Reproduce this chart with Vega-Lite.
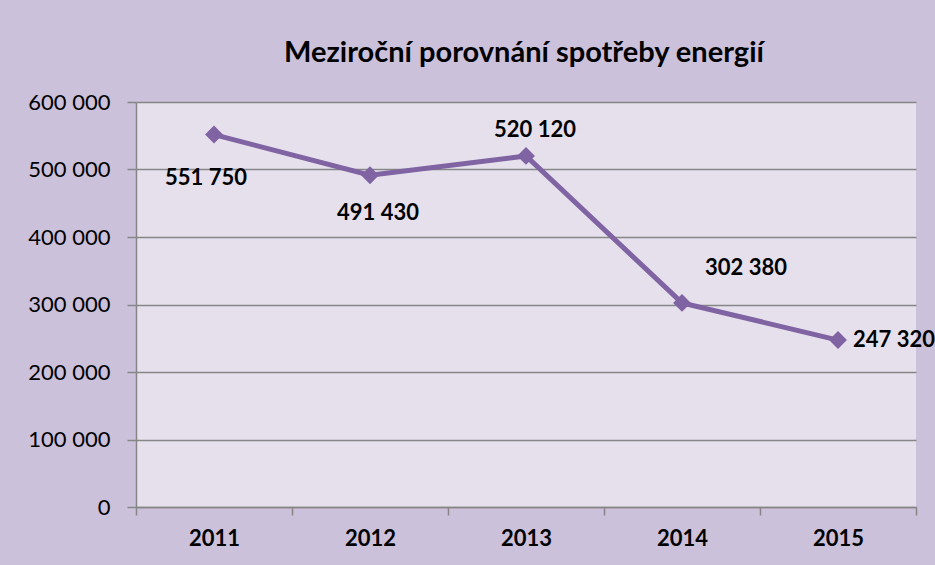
{
  "$schema": "https://vega.github.io/schema/vega-lite/v6.json",
  "width": 780,
  "height": 405,
  "autosize": {"type": "none"},
  "padding": {"left": 136, "top": 102, "right": 19, "bottom": 58},
  "background": "#ccc1da",
  "title": {
    "text": "Meziroční porovnání spotřeby energií",
    "fontSize": 29,
    "fontWeight": "bold",
    "color": "#000000",
    "anchor": "middle",
    "frame": "group",
    "baseline": "alphabetic",
    "offset": 0,
    "dx": -2
  },
  "config": {
    "font": "Lato",
    "locale": {
      "number": {"decimal": ",", "thousands": " ", "grouping": [3], "currency": ["", " Kč"]}
    },
    "view": {"fill": "#e5e0ec", "stroke": null}
  },
  "data": {
    "values": [
      {"year": "2011", "value": 551750},
      {"year": "2012", "value": 491430},
      {"year": "2013", "value": 520120},
      {"year": "2014", "value": 302380},
      {"year": "2015", "value": 247320}
    ]
  },
  "encoding": {
    "x": {
      "field": "year",
      "type": "ordinal",
      "scale": {"type": "band", "paddingInner": 0, "paddingOuter": 0},
      "axis": {
        "title": null,
        "labelAngle": 0,
        "labelFontSize": 22,
        "labelFontWeight": "bold",
        "labelColor": "#000000",
        "labelPadding": 13,
        "tickBand": "extent",
        "tickSize": 8,
        "tickColor": "#868686",
        "tickWidth": 1.5,
        "domainColor": "#868686",
        "domainWidth": 1.5,
        "grid": false
      }
    },
    "y": {
      "field": "value",
      "type": "quantitative",
      "scale": {"domain": [0, 600000], "nice": false},
      "axis": {
        "title": null,
        "values": [0, 100000, 200000, 300000, 400000, 500000, 600000],
        "labelExpr": "format(datum.value, ',')",
        "labelFontSize": 22,
        "labelColor": "#000000",
        "labelPadding": 17,
        "tickSize": 9,
        "tickColor": "#868686",
        "tickWidth": 1.5,
        "domainColor": "#868686",
        "domainWidth": 1.5,
        "grid": true,
        "gridColor": "#868686",
        "gridWidth": 1.5
      }
    }
  },
  "layer": [
    {
      "mark": {
        "type": "line",
        "color": "#7f63a2",
        "strokeWidth": 5,
        "point": {"shape": "diamond", "size": 320, "filled": true, "color": "#7f63a2", "opacity": 1}
      }
    },
    {
      "transform": [{"filter": "datum.year == '2011'"}],
      "mark": {"type": "text", "fontSize": 22, "fontWeight": "bold", "color": "#000000", "align": "center", "baseline": "middle", "dx": -8, "dy": 43},
      "encoding": {"text": {"field": "value", "type": "quantitative", "format": ","}}
    },
    {
      "transform": [{"filter": "datum.year == '2012'"}],
      "mark": {"type": "text", "fontSize": 22, "fontWeight": "bold", "color": "#000000", "align": "center", "baseline": "middle", "dx": 8, "dy": 38},
      "encoding": {"text": {"field": "value", "type": "quantitative", "format": ","}}
    },
    {
      "transform": [{"filter": "datum.year == '2013'"}],
      "mark": {"type": "text", "fontSize": 22, "fontWeight": "bold", "color": "#000000", "align": "center", "baseline": "middle", "dx": 9, "dy": -26},
      "encoding": {"text": {"field": "value", "type": "quantitative", "format": ","}}
    },
    {
      "transform": [{"filter": "datum.year == '2014'"}],
      "mark": {"type": "text", "fontSize": 22, "fontWeight": "bold", "color": "#000000", "align": "center", "baseline": "middle", "dx": 64, "dy": -35},
      "encoding": {"text": {"field": "value", "type": "quantitative", "format": ","}}
    },
    {
      "transform": [{"filter": "datum.year == '2015'"}],
      "mark": {"type": "text", "fontSize": 22, "fontWeight": "bold", "color": "#000000", "align": "left", "baseline": "middle", "dx": 15, "dy": 0},
      "encoding": {"text": {"field": "value", "type": "quantitative", "format": ","}}
    }
  ]
}
